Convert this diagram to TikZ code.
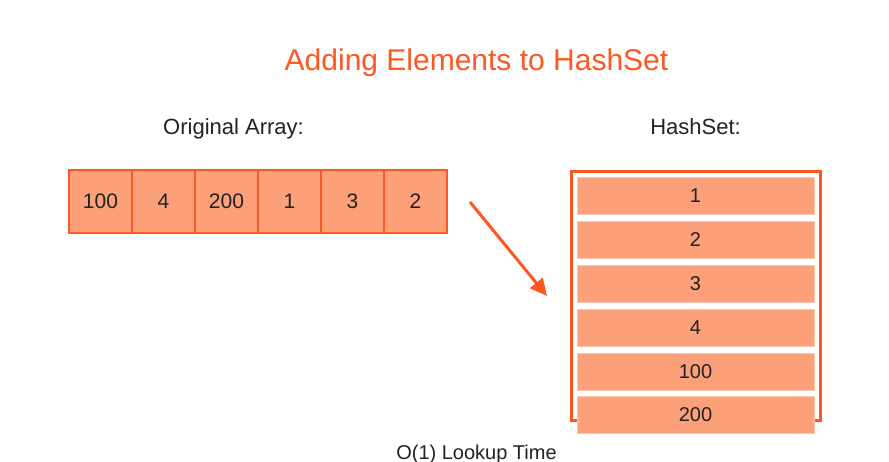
\documentclass[tikz,border=0pt]{standalone}
\usepackage{fontspec}
\setmainfont{Liberation Sans}
\usetikzlibrary{positioning,arrows.meta}
\definecolor{hsorange}{HTML}{FF5722}
\definecolor{hsfill}{HTML}{FCA07A}
\definecolor{hstext}{HTML}{222222}
\begin{document}
\begin{tikzpicture}[x=1pt,y=-1pt]
  \tikzstyle{cell}=[draw=hsorange,fill=hsfill,line width=2pt,minimum size=63pt,inner sep=0pt,outer sep=0pt,text=hstext,font=\fontsize{21}{24}\selectfont]
  \tikzstyle{row}=[draw=hsfill!60!white,fill=hsfill,line width=1pt,minimum width=237pt,minimum height=37pt,inner sep=0pt,outer sep=0pt,text=hstext,font=\fontsize{20}{24}\selectfont]
  \tikzstyle{lbl}=[anchor=base,inner sep=0pt,text=hstext,font=\fontsize{22}{26}\selectfont]
  \tikzstyle{ed}=[draw=hsorange,line width=3pt,-{Triangle[length=17pt,width=16pt]}]
  \useasboundingbox [fill=white] (0,0) rectangle (889,461);
  \node [anchor=base,inner sep=0pt,text=hsorange,font=\fontsize{30}{34}\selectfont] (title) at (476.5,70) {Adding Elements to HashSet};
  \node [lbl] (arrlbl) at (233.5,134) {Original Array:};
  \node [lbl] (setlbl) at (695.5,134) {HashSet:};
  % original array
  \node [cell] (a1) at (100.5,201.5) {100};
  \node [cell] (a2) at (163.5,201.5) {4};
  \node [cell] (a3) at (226.5,201.5) {200};
  \node [cell] (a4) at (289.5,201.5) {1};
  \node [cell] (a5) at (352.5,201.5) {3};
  \node [cell] (a6) at (415.5,201.5) {2};
  % hash set
  \draw [draw=hsorange,fill=white,line width=3pt] (571,171.5) rectangle (820.5,420.5);
  \node [row] (s1) at (695.5,195.5) {1};
  \node [row] (s2) at (695.5,239.5) {2};
  \node [row] (s3) at (695.5,283.5) {3};
  \node [row] (s4) at (695.5,327.5) {4};
  \node [row] (s5) at (695.5,371.5) {100};
  \node [row] (s6) at (695.5,414.5) {200};
  \coordinate (from) at (470,202);
  \coordinate (to) at (547,296);
  \draw [ed] (from) -- (to);
  \node [lbl,font=\fontsize{20}{24}\selectfont] (lookup) at (476.5,459.5) {O(1) Lookup Time};
\end{tikzpicture}
\end{document}
